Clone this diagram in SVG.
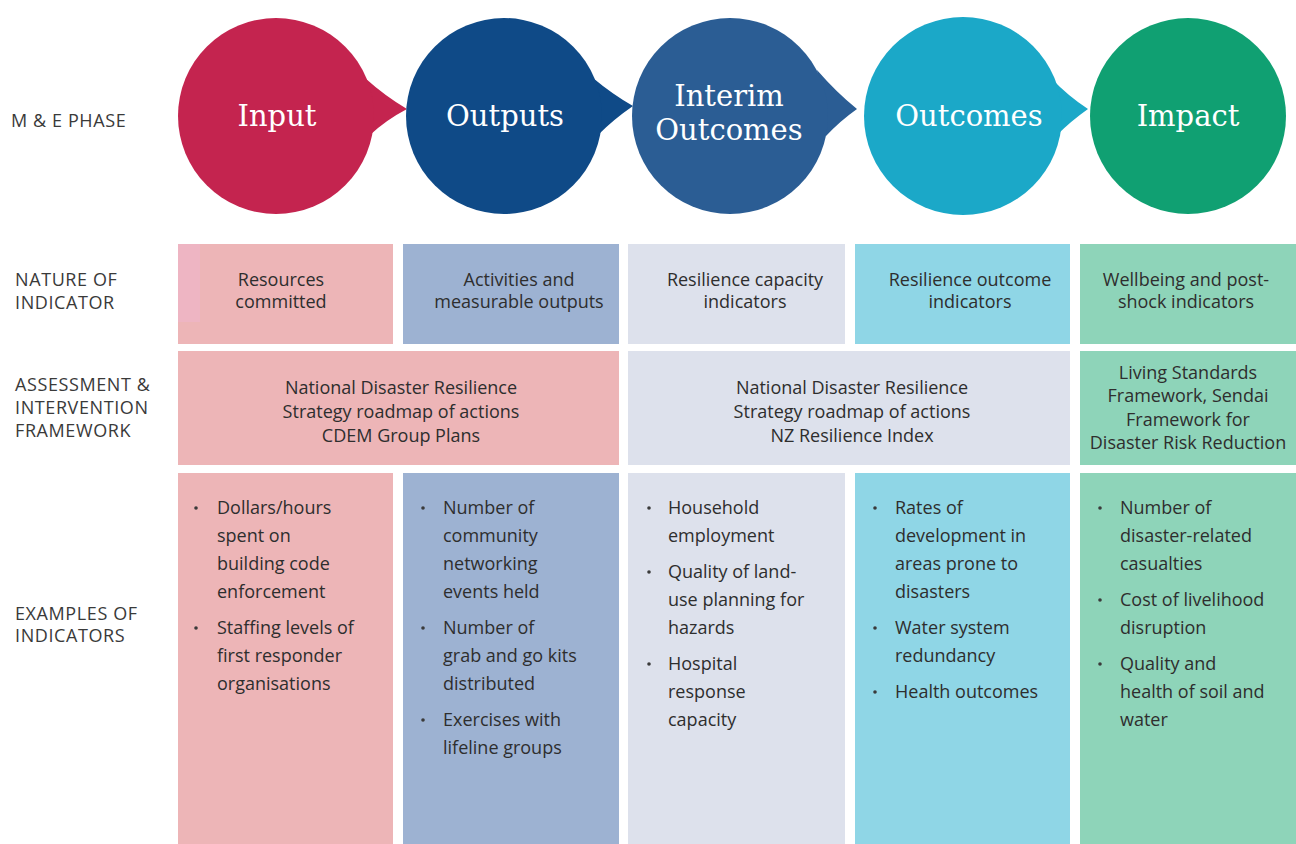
<svg xmlns="http://www.w3.org/2000/svg" width="1296" height="844" viewBox="0 0 1296 844">
<style>
.lbl{font-family:"Open Sans","Liberation Sans",sans-serif;font-size:18px;letter-spacing:0.6px;fill:#3a3a3a}
.t{font-family:"Open Sans","Liberation Sans",sans-serif;font-size:18px;fill:#2e2e2e}
.c{text-anchor:middle}
.ph{font-family:"DejaVu Serif","Liberation Serif",serif;font-size:29px;fill:#ffffff;text-anchor:middle}
.pink{fill:#EDB5B7}.blue{fill:#9DB2D2}.lav{fill:#DDE1EC}.cyan{fill:#8FD6E6}.green{fill:#8ED4B9}
.b{fill:#3a3a3a}
</style>
<rect width="1296" height="844" fill="#ffffff"/>

<g id="row-labels">
<text class="lbl" x="11" y="127">M &amp; E PHASE</text>
<text class="lbl" x="15" y="286">NATURE OF</text>
<text class="lbl" x="15" y="309">INDICATOR</text>
<text class="lbl" x="15" y="391">ASSESSMENT &amp;</text>
<text class="lbl" x="15" y="414">INTERVENTION</text>
<text class="lbl" x="15" y="437">FRAMEWORK</text>
<text class="lbl" x="15" y="620">EXAMPLES OF</text>
<text class="lbl" x="15" y="642">INDICATORS</text>
</g>

<g id="connectors">
<path d="M365,78 Q385,96 407,109 Q386,120 370,135 Z" fill="#C4244F"/>
<path d="M593,78 Q612,94 633,106 Q614,119 598,135 Z" fill="#0F4A87"/>
<path d="M817,70 Q836,92 857,109 Q840,121 826,136 Z" fill="#2B5D94"/>
<path d="M1051,78 Q1068,96 1088,109 Q1071,121 1057,135 Z" fill="#1BA8C8"/>
</g>

<g id="phase-input">
<circle cx="276" cy="116" r="98" fill="#C4244F"/>
<text class="ph" x="277" y="126">Input</text>
</g>
<g id="phase-outputs">
<circle cx="504" cy="116" r="98" fill="#0F4A87"/>
<text class="ph" x="505" y="126">Outputs</text>
</g>
<g id="phase-interim">
<circle cx="730" cy="116" r="98" fill="#2B5D94"/>
<text class="ph" x="729" y="106">Interim</text>
<text class="ph" x="729" y="140">Outcomes</text>
</g>
<g id="phase-outcomes">
<circle cx="963" cy="116" r="99" fill="#1BA8C8"/>
<text class="ph" x="969" y="126">Outcomes</text>
</g>
<g id="phase-impact">
<circle cx="1188" cy="116" r="98" fill="#10A072"/>
<text class="ph" x="1188" y="126">Impact</text>
</g>

<g id="nature-input">
<rect class="pink" x="178" y="244" width="215" height="100"/>
<rect x="178" y="244" width="22" height="78" fill="#EEB5C3"/>
<text class="t c" x="281" y="286">Resources</text>
<text class="t c" x="281" y="308">committed</text>
</g>
<g id="nature-outputs">
<rect class="blue" x="403" y="244" width="216" height="100"/>
<text class="t c" x="519" y="286">Activities and</text>
<text class="t c" x="519" y="308">measurable outputs</text>
</g>
<g id="nature-interim">
<rect class="lav" x="628" y="244" width="217" height="100"/>
<text class="t c" x="745" y="286">Resilience capacity</text>
<text class="t c" x="745" y="308">indicators</text>
</g>
<g id="nature-outcomes">
<rect class="cyan" x="855" y="244" width="215" height="100"/>
<text class="t c" x="970" y="286">Resilience outcome</text>
<text class="t c" x="970" y="308">indicators</text>
</g>
<g id="nature-impact">
<rect class="green" x="1080" y="244" width="216" height="100"/>
<text class="t c" x="1186" y="286">Wellbeing and post-</text>
<text class="t c" x="1186" y="308">shock indicators</text>
</g>

<g id="framework-1">
<rect class="pink" x="178" y="351" width="441" height="114"/>
<text class="t c" x="401" y="394">National Disaster Resilience</text>
<text class="t c" x="401" y="418">Strategy roadmap of actions</text>
<text class="t c" x="401" y="442">CDEM Group Plans</text>
</g>
<g id="framework-2">
<rect class="lav" x="628" y="351" width="442" height="114"/>
<text class="t c" x="852" y="394">National Disaster Resilience</text>
<text class="t c" x="852" y="418">Strategy roadmap of actions</text>
<text class="t c" x="852" y="442">NZ Resilience Index</text>
</g>
<g id="framework-3">
<rect class="green" x="1080" y="351" width="216" height="114"/>
<text class="t c" x="1188" y="379">Living Standards</text>
<text class="t c" x="1188" y="402">Framework, Sendai</text>
<text class="t c" x="1188" y="426">Framework for</text>
<text class="t c" x="1188" y="449">Disaster Risk Reduction</text>
</g>

<g id="examples-input">
<rect class="pink" x="178" y="473" width="215" height="371"/>
<circle class="b" cx="196" cy="508" r="1.8"/>
<circle class="b" cx="196" cy="628" r="1.8"/>
<text class="t" x="217" y="514">Dollars/hours</text>
<text class="t" x="217" y="542">spent on</text>
<text class="t" x="217" y="570">building code</text>
<text class="t" x="217" y="598">enforcement</text>
<text class="t" x="217" y="634">Staffing levels of</text>
<text class="t" x="217" y="662">first responder</text>
<text class="t" x="217" y="690">organisations</text>
</g>
<g id="examples-outputs">
<rect class="blue" x="403" y="473" width="216" height="371"/>
<circle class="b" cx="423" cy="508" r="1.8"/>
<circle class="b" cx="423" cy="628" r="1.8"/>
<circle class="b" cx="423" cy="720" r="1.8"/>
<text class="t" x="443" y="514">Number of</text>
<text class="t" x="443" y="542">community</text>
<text class="t" x="443" y="570">networking</text>
<text class="t" x="443" y="598">events held</text>
<text class="t" x="443" y="634">Number of</text>
<text class="t" x="443" y="662">grab and go kits</text>
<text class="t" x="443" y="690">distributed</text>
<text class="t" x="443" y="726">Exercises with</text>
<text class="t" x="443" y="754">lifeline groups</text>
</g>
<g id="examples-interim">
<rect class="lav" x="628" y="473" width="217" height="371"/>
<circle class="b" cx="649" cy="508" r="1.8"/>
<circle class="b" cx="649" cy="572" r="1.8"/>
<circle class="b" cx="649" cy="664" r="1.8"/>
<text class="t" x="668" y="514">Household</text>
<text class="t" x="668" y="542">employment</text>
<text class="t" x="668" y="578">Quality of land-</text>
<text class="t" x="668" y="606">use planning for</text>
<text class="t" x="668" y="634">hazards</text>
<text class="t" x="668" y="670">Hospital</text>
<text class="t" x="668" y="698">response</text>
<text class="t" x="668" y="726">capacity</text>
</g>
<g id="examples-outcomes">
<rect class="cyan" x="855" y="473" width="215" height="371"/>
<circle class="b" cx="875" cy="508" r="1.8"/>
<circle class="b" cx="875" cy="628" r="1.8"/>
<circle class="b" cx="875" cy="692" r="1.8"/>
<text class="t" x="895" y="514">Rates of</text>
<text class="t" x="895" y="542">development in</text>
<text class="t" x="895" y="570">areas prone to</text>
<text class="t" x="895" y="598">disasters</text>
<text class="t" x="895" y="634">Water system</text>
<text class="t" x="895" y="662">redundancy</text>
<text class="t" x="895" y="698">Health outcomes</text>
</g>
<g id="examples-impact">
<rect class="green" x="1080" y="473" width="216" height="371"/>
<circle class="b" cx="1100" cy="508" r="1.8"/>
<circle class="b" cx="1100" cy="600" r="1.8"/>
<circle class="b" cx="1100" cy="664" r="1.8"/>
<text class="t" x="1120" y="514">Number of</text>
<text class="t" x="1120" y="542">disaster-related</text>
<text class="t" x="1120" y="570">casualties</text>
<text class="t" x="1120" y="606">Cost of livelihood</text>
<text class="t" x="1120" y="634">disruption</text>
<text class="t" x="1120" y="670">Quality and</text>
<text class="t" x="1120" y="698">health of soil and</text>
<text class="t" x="1120" y="726">water</text>
</g>
</svg>
